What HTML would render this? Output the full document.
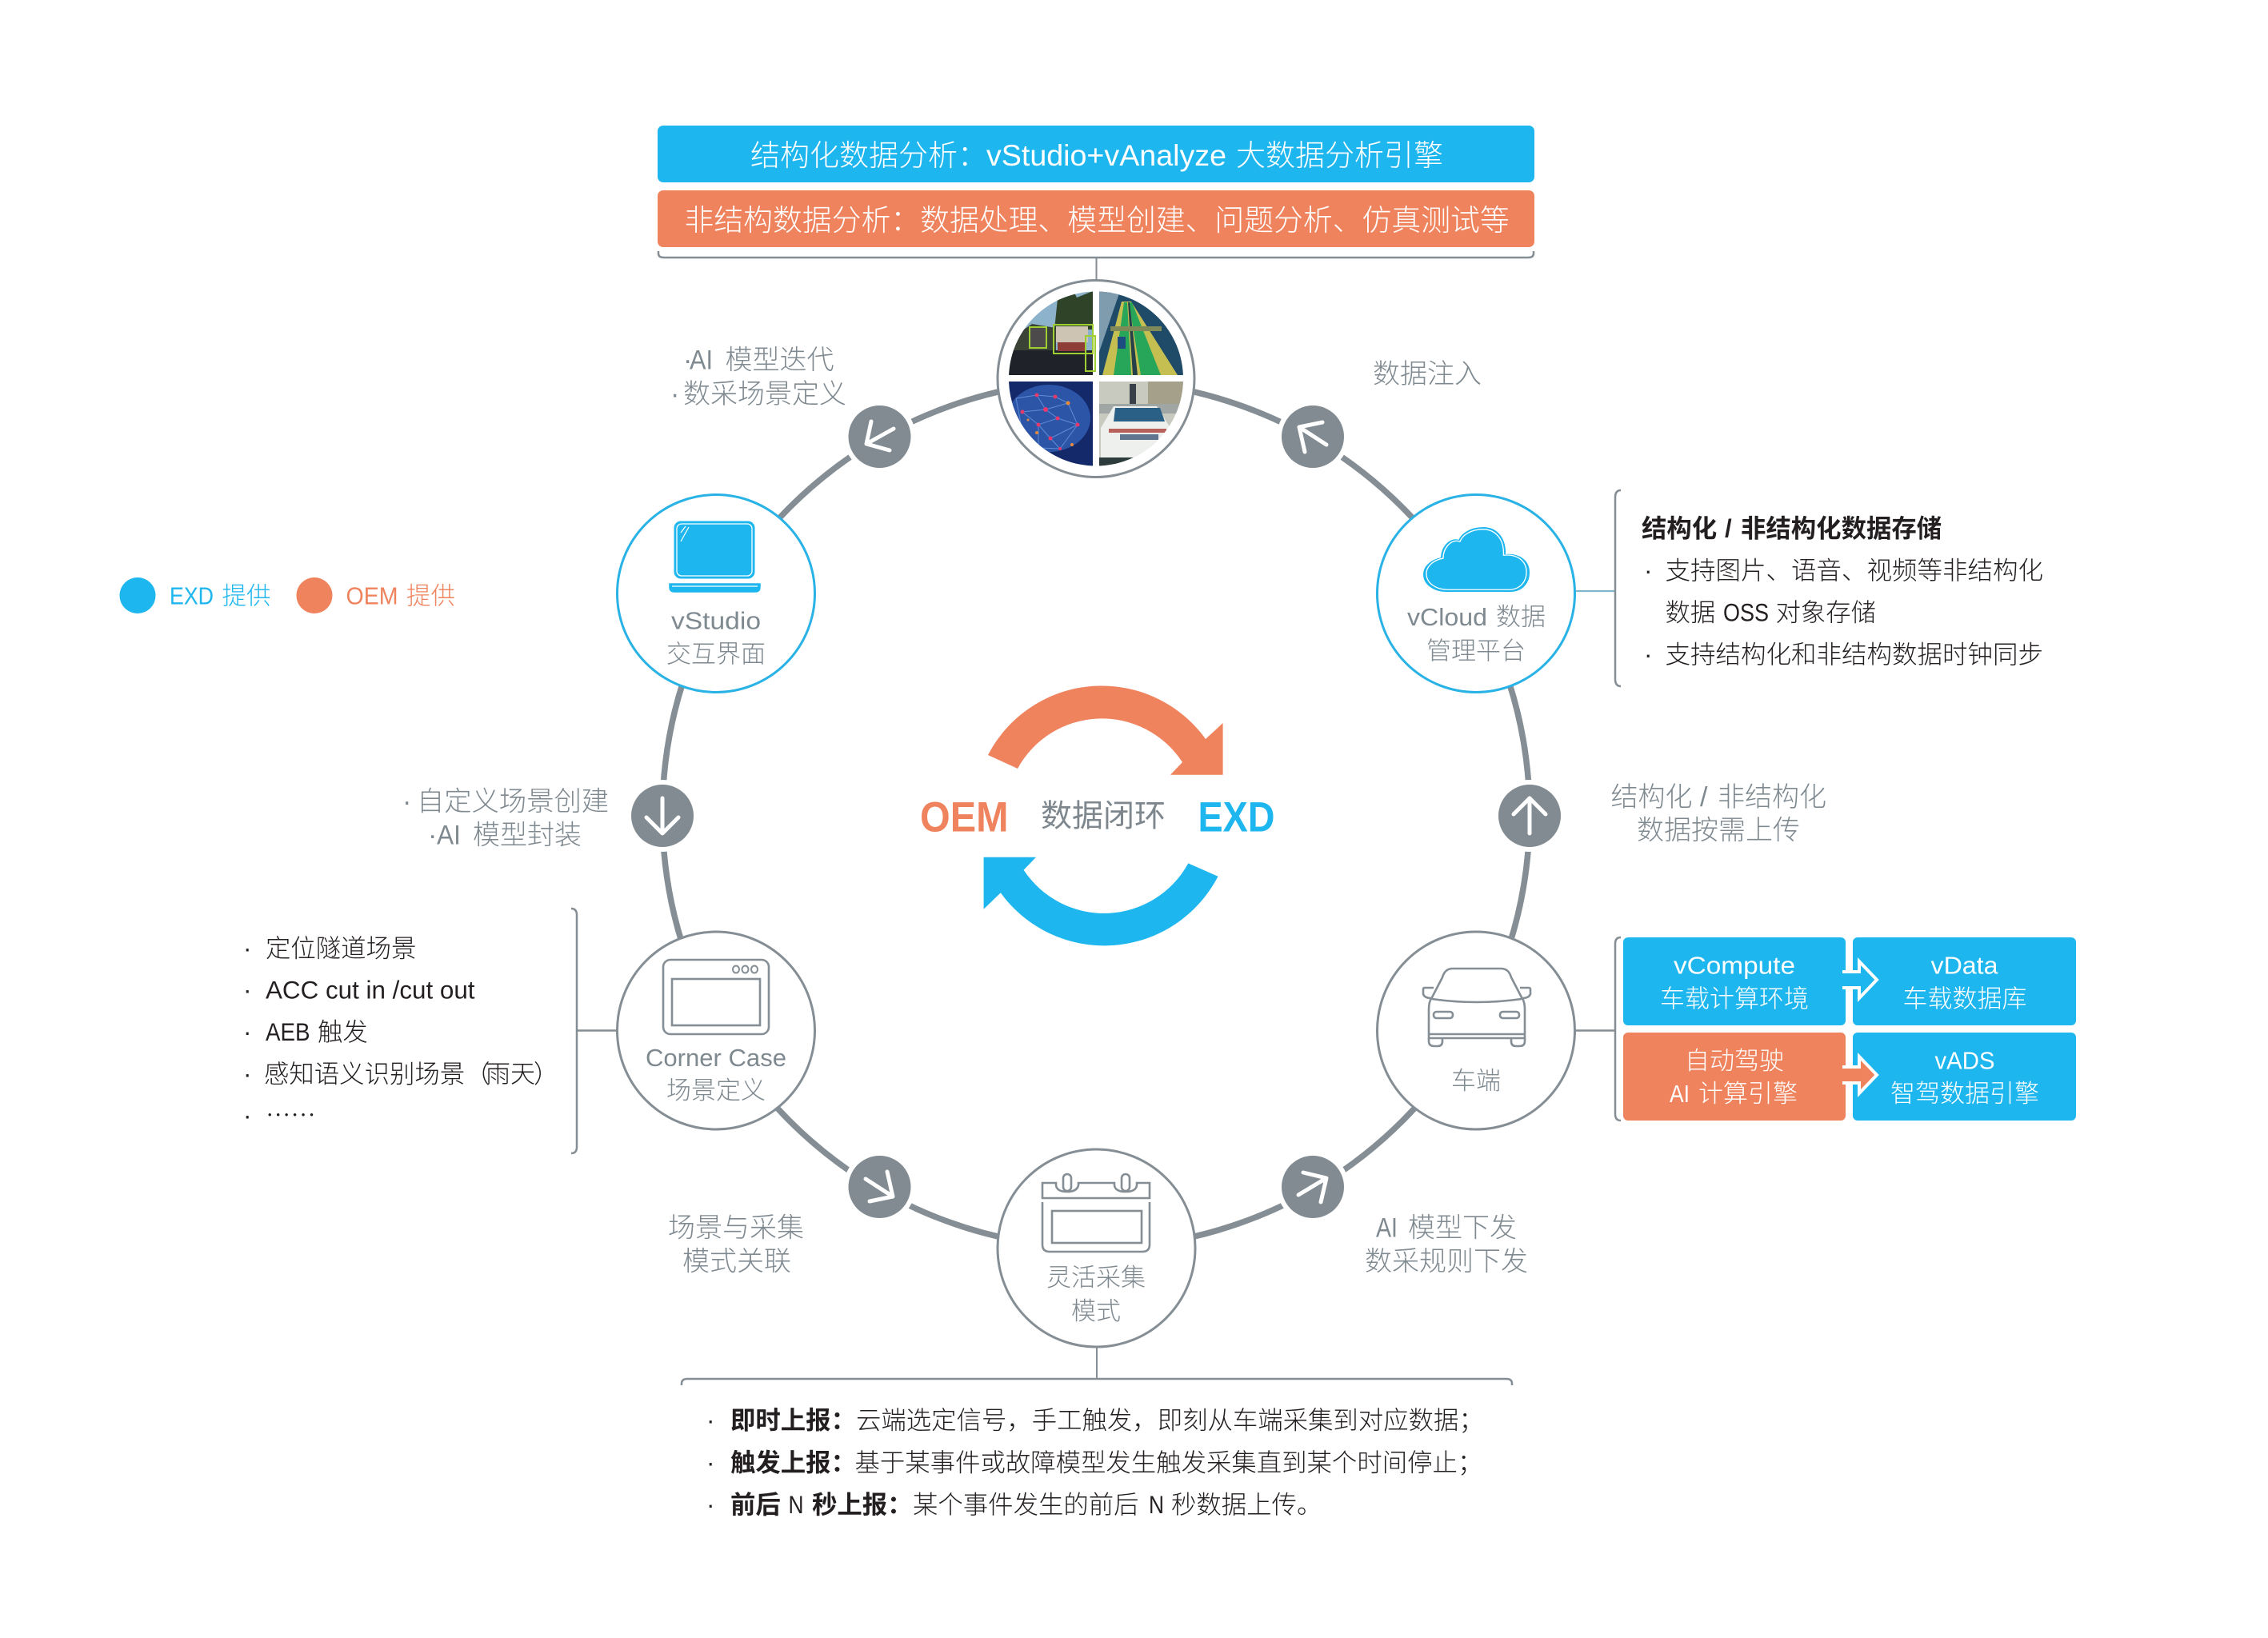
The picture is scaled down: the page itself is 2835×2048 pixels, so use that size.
<!DOCTYPE html>
<html><head><meta charset="utf-8"><style>
html,body{margin:0;padding:0;background:#fff}
svg{display:block}
text{font-family:"Liberation Sans","Noto Sans CJK SC",sans-serif;font-weight:300}
.g{fill:#7f8990}.k{fill:#231f20}.w{fill:#fff}
.s31{font-size:31px}.s34{font-size:34px}.s37{font-size:37px}.s315{font-size:31.4px}
.m{text-anchor:middle}.b{font-weight:700}
.line{fill:none;stroke:#848e94}
.ic{fill:none;stroke:#848e94;stroke-width:2.6}
</style></head><body>
<svg xmlns="http://www.w3.org/2000/svg" width="2835" height="2048" viewBox="0 0 2835 2048">
<defs><clipPath id="cp"><circle cx="1370" cy="473.5" r="109"/></clipPath></defs>
<rect width="2835" height="2048" fill="#fff"/>

<!-- top bars -->
<rect x="822" y="157" width="1096" height="71" rx="7" fill="#1eb6ee"/>
<rect x="822" y="238" width="1096" height="71" rx="7" fill="#ef835d"/>
<text class="w s37" x="938" y="207">结构化数据分析：</text>
<text class="w s37" x="1233" y="207" textLength="300" lengthAdjust="spacingAndGlyphs">vStudio+vAnalyze</text>
<text class="w s37" x="1545" y="207">大数据分析引擎</text>
<text class="w" font-size="36.85" x="855.5" y="288">非结构数据分析：数据处理、模型创建、问题分析、仿真测试等</text>
<path class="line" stroke-width="2.5" d="M823 314V317Q823 322 830 322H1910Q1917 322 1917 317V314"/>
<path class="line" stroke-width="2" d="M1370.5 322V350"/>

<!-- ring -->
<circle cx="1370" cy="1018" r="542" fill="none" stroke="#848e94" stroke-width="7.5"/>
<g fill="#fff">
<circle cx="1099.5" cy="546" r="45"/><circle cx="1641" cy="546" r="45"/>
<circle cx="828" cy="1020" r="45"/><circle cx="1912" cy="1020" r="45"/>
<circle cx="1099.5" cy="1484" r="45"/><circle cx="1641" cy="1484" r="45"/>
</g>
<g fill="#818b91">
<circle cx="1099.5" cy="546" r="39"/><circle cx="1641" cy="546" r="39"/>
<circle cx="828" cy="1020" r="39"/><circle cx="1912" cy="1020" r="39"/>
<circle cx="1099.5" cy="1484" r="39"/><circle cx="1641" cy="1484" r="39"/>
</g>
<g fill="none" stroke="#fff" stroke-width="5" stroke-linecap="round" stroke-linejoin="round">
<path d="M1912 1042V998M1892 1018L1912 998L1932 1018"/>
<path d="M828 998V1042M808 1022L828 1042L848 1022"/>
<path d="M1658 556L1624 534M1653 528L1624 534L1631 565"/>
<path d="M1117 536L1083 555M1089 527L1083 555L1112 563"/>
<path d="M1082 1474L1116 1496M1087 1502L1116 1496L1109 1465"/>
<path d="M1623 1494L1658 1473M1629 1466L1658 1473L1651 1503"/>
</g>

<!-- nodes -->
<g fill="#fff" stroke-width="3">
<circle cx="1370" cy="473.5" r="123" stroke="#848e94"/>
<circle cx="895" cy="742" r="123.5" stroke="#29b2e5"/>
<circle cx="1845" cy="742" r="123.5" stroke="#29b2e5"/>
<circle cx="895" cy="1288.5" r="123.5" stroke="#848e94"/>
<circle cx="1845" cy="1288.5" r="123.5" stroke="#848e94"/>
<circle cx="1370.5" cy="1560.5" r="123.5" stroke="#848e94"/>
</g>

<!-- photo collage -->
<g clip-path="url(#cp)">
<!-- TL -->
<rect x="1261" y="364" width="105" height="105" fill="#8db3cc"/>
<path d="M1261 425L1290 405L1320 410V440H1261Z" fill="#3b4236"/>
<path d="M1323 364H1342L1346 372L1366 364V412H1318Z" fill="#2f4329"/>
<rect x="1261" y="438" width="105" height="31" fill="#1f2228"/>
<rect x="1288" y="410" width="19" height="24" fill="#4d4a4c"/>
<rect x="1320" y="408" width="40" height="20" fill="#cdc4b4"/>
<rect x="1322" y="428" width="36" height="11" fill="#8d3d35"/>
<g fill="none" stroke="#9fce33" stroke-width="2"><rect x="1287" y="409" width="21" height="26"/><rect x="1317" y="406" width="49" height="36"/><rect x="1357" y="420" width="12" height="44"/></g>
<!-- TR -->
<rect x="1374" y="364" width="105" height="105" fill="#1f4a68"/>
<path d="M1374 364H1400L1374 440Z" fill="#7f9cae"/>
<path d="M1420 364H1479V425Z" fill="#8ea7b8"/>
<path d="M1402 377H1414L1472 469H1378Z" fill="#c5bf52"/>
<path d="M1405 378H1409L1414 469H1392Z" fill="#27a558"/>
<path d="M1411 378H1415L1451 469H1426Z" fill="#27a558"/>
<path d="M1410 378H1412L1422 469H1416Z" fill="#26404a"/>
<rect x="1397" y="421" width="10" height="15" fill="#1d4d80"/>
<rect x="1388" y="408" width="64" height="6" fill="#7f8a58"/>
<!-- BL -->
<rect x="1261" y="477" width="105" height="106" fill="#14296a"/>
<ellipse cx="1311" cy="523" rx="52" ry="42" fill="#2c55a8"/>
<g fill="none" stroke="#6f9be0" stroke-width="1" opacity=".8">
<path d="M1270 498L1296 494L1319 496L1335 504L1347 531L1325 561L1298 560L1278 540L1270 498"/>
<path d="M1278 515L1307 512L1322 523L1298 531L1278 515M1296 494L1307 512L1335 504M1322 523L1347 531M1298 531L1313 548L1347 531M1298 531L1298 560M1313 548L1325 561"/>
</g>
<g fill="#e4396a"><circle cx="1307" cy="512" r="3"/><circle cx="1296" cy="494" r="2.5"/><circle cx="1319" cy="496" r="2.5"/><circle cx="1278" cy="515" r="2.5"/><circle cx="1322" cy="523" r="2.5"/><circle cx="1298" cy="531" r="2.5"/><circle cx="1347" cy="531" r="2.5"/><circle cx="1313" cy="548" r="2.5"/><circle cx="1325" cy="561" r="2"/></g>
<g fill="#e98b3a"><circle cx="1335" cy="504" r="2.5"/><circle cx="1296" cy="541" r="2"/><circle cx="1285" cy="525" r="1.5"/><circle cx="1340" cy="556" r="2"/></g>
<!-- BR -->
<rect x="1374" y="477" width="105" height="106" fill="#c9cabf"/>
<rect x="1435" y="477" width="44" height="30" fill="#a4a089"/>
<rect x="1374" y="505" width="105" height="12" fill="#9fa6a3"/>
<rect x="1412" y="480" width="8" height="25" fill="#384048"/>
<path d="M1392 508H1446L1466 540V572H1376V535Z" fill="#eef0ee"/>
<path d="M1394 510H1450L1456 527H1392Z" fill="#2a5f86"/>
<rect x="1386" y="536" width="72" height="5" fill="#b8615a"/>
<rect x="1400" y="543" width="48" height="7" fill="#5f7590"/>
<rect x="1374" y="572" width="105" height="11" fill="#2d3b3c"/>
</g>

<!-- vStudio icon -->
<rect x="843" y="652" width="100" height="71" rx="8" fill="#1eb6ee" stroke="#1eb6ee" stroke-width="1"/>
<rect x="846" y="655" width="94" height="65" rx="6" fill="none" stroke="#fff" stroke-width="1.3"/>
<path d="M851 666L857 658M851 677L861 659" stroke="#fff" stroke-width="1.2"/>
<path d="M837 730H950V734Q950 740 944 740H843Q837 740 837 734Z" fill="#1eb6ee" stroke="#1eb6ee" stroke-width="1.5"/>
<path d="M840 733H947" stroke="#fff" stroke-width="1.2"/>
<text class="g s31" x="839" y="786.5" textLength="112" lengthAdjust="spacingAndGlyphs">vStudio</text>
<text class="g s31 m" x="895" y="828.5">交互界面</text>

<!-- cloud -->
<path d="M1808 739H1888C1903 739 1911 728 1911 716C1911 702 1900 692 1881 694C1882 672 1870 660 1854 660C1838 660 1827 668 1824 676C1812 672 1802 685 1802 698C1790 700 1780 708 1780 718C1780 730 1792 739 1808 739Z" fill="#1eb6ee" stroke="#1eb6ee" stroke-width="2"/>
<path d="M1808 739H1888C1903 739 1911 728 1911 716C1911 702 1900 692 1881 694C1882 672 1870 660 1854 660C1838 660 1827 668 1824 676C1812 672 1802 685 1802 698C1790 700 1780 708 1780 718C1780 730 1792 739 1808 739Z" fill="none" stroke="#fff" stroke-width="1.4" transform="translate(1845.5 700) scale(.955) translate(-1845.5 -700)"/>
<text class="g s31" x="1759" y="782" textLength="100" lengthAdjust="spacingAndGlyphs">vCloud</text>
<text class="g s31" x="1870" y="782">数据</text>
<text class="g s31 m" x="1845" y="824.5">管理平台</text>

<!-- corner case icon -->
<rect x="829" y="1200" width="132" height="93" rx="9" class="ic"/>
<rect x="840" y="1224" width="110" height="58" class="ic"/>
<ellipse cx="920" cy="1212" rx="4" ry="4.5" class="ic" style="stroke-width:2"/><ellipse cx="931.5" cy="1212" rx="4" ry="4.5" class="ic" style="stroke-width:2"/><ellipse cx="943" cy="1212" rx="4" ry="4.5" class="ic" style="stroke-width:2"/>
<text class="g s31" x="807" y="1333" textLength="176" lengthAdjust="spacingAndGlyphs">Corner Case</text>
<text class="g s31 m" x="895" y="1374">场景定义</text>

<!-- car icon -->
<g class="ic">
<path d="M1786 1298V1262Q1786 1252 1790 1247L1803 1222Q1806 1211 1816 1211H1876Q1886 1211 1889 1222L1902 1247Q1906 1252 1906 1262V1298Q1906 1298 1900 1298H1792Q1786 1298 1786 1298Z"/>
<path d="M1790 1249Q1845 1257 1902 1249"/>
<path d="M1792 1235H1781Q1779 1235 1779 1237V1243Q1781 1248 1789 1248M1900 1235H1911Q1913 1235 1913 1237V1243Q1911 1248 1903 1248"/>
<rect x="1792" y="1265" width="24" height="8" rx="3.5"/>
<rect x="1875" y="1265" width="24" height="8" rx="3.5"/>
<path d="M1786 1298V1302Q1786 1308 1793 1308H1797Q1803 1308 1803 1302V1298M1889 1298V1302Q1889 1308 1895 1308H1899Q1906 1308 1906 1302V1298"/>
<path d="M1786 1293H1906"/>
</g>
<text class="g s31 m" x="1845" y="1362">车端</text>

<!-- calendar icon -->
<g class="ic">
<path d="M1303 1498V1479H1320V1482Q1321 1490 1334 1490Q1346 1490 1348 1482V1479H1393V1482Q1394 1490 1407 1490Q1420 1490 1421 1482V1479H1437V1498Z"/>
<rect x="1329" y="1468" width="10" height="21" rx="5"/>
<rect x="1402" y="1468" width="10" height="21" rx="5"/>
<path d="M1303 1503V1556Q1303 1565 1312 1565H1428Q1437 1565 1437 1556V1503"/>
<rect x="1315" y="1514" width="112" height="40"/>
</g>
<text class="g s31 m" x="1370" y="1608">灵活采集</text>
<text class="g s31 m" x="1370" y="1650">模式</text>

<!-- brackets & connectors -->
<path d="M1970 739H2018" fill="none" stroke="#7fb6cc" stroke-width="2.2"/>
<path class="line" stroke-width="2.5" d="M2026 613Q2019 613 2019 622V849Q2019 858 2026 858"/>
<path class="line" stroke-width="2.5" d="M1970 1288.5H2018M2026 1172Q2019 1172 2019 1180V1393Q2019 1401 2026 1401"/>
<path class="line" stroke-width="2.5" d="M771 1288.5H721M714 1136Q721 1136 721 1144V1434Q721 1442 714 1442"/>
<path class="line" stroke-width="2" d="M1371 1684V1724"/>
<path class="line" stroke-width="2.5" d="M852 1732V1730Q852 1724 859 1724H1883Q1890 1724 1890 1730V1732"/>

<!-- boxes -->
<rect x="2316" y="1172" width="279" height="110" rx="6" fill="#1eb6ee"/>
<rect x="2316" y="1291" width="279" height="110" rx="6" fill="#1eb6ee"/>
<rect x="2029" y="1172" width="278" height="110" rx="6" fill="#1eb6ee"/>
<rect x="2029" y="1291" width="278" height="110" rx="6" fill="#ef835d"/>
<path d="M2305 1215H2324V1202L2346 1225L2324 1248V1235H2305Z" fill="#1eb6ee" stroke="#fff" stroke-width="4"/>
<path d="M2305 1334H2324V1321L2346 1344L2324 1367V1354H2305Z" fill="#ef835d" stroke="#fff" stroke-width="4"/>
<rect x="2300" y="1217" width="12" height="16" fill="#1eb6ee"/>
<rect x="2300" y="1336" width="12" height="16" fill="#ef835d"/>
<text class="w s31" x="2092" y="1217.5" textLength="152" lengthAdjust="spacingAndGlyphs">vCompute</text>
<text class="w s31 m" x="2168" y="1259.5">车载计算环境</text>
<text class="w s31" x="2413.5" y="1217.5" textLength="84" lengthAdjust="spacingAndGlyphs">vData</text>
<text class="w s31 m" x="2456" y="1259.5">车载数据库</text>
<text class="w s31 m" x="2168" y="1337">自动驾驶</text>
<text class="w s31" x="2087" y="1378" textLength="25" lengthAdjust="spacingAndGlyphs">AI</text>
<text class="w s31" x="2123" y="1378">计算引擎</text>
<text class="w s31" x="2418.5" y="1336.5" textLength="75" lengthAdjust="spacingAndGlyphs">vADS</text>
<text class="w s31 m" x="2456" y="1378">智驾数据引擎</text>

<!-- center -->
<path d="M1235 944A160 160 0 0 1 1507 924L1528.6 904V968.7H1463L1478 953A120 120 0 0 0 1272 961Z" fill="#ef835d"/>
<path d="M1522.5 1095.7A160 160 0 0 1 1250.8 1116.3L1229.6 1136.7V1071.7H1295L1279.6 1087.7A120 120 0 0 0 1485.3 1079.4Z" fill="#1eb6ee"/>
<text x="1150" y="1039.5" font-size="53" style="font-weight:700" fill="#ef835d" textLength="110.5" lengthAdjust="spacingAndGlyphs">OEM</text>
<text x="1497.5" y="1039.5" font-size="53" style="font-weight:700" fill="#1eb6ee" textLength="96" lengthAdjust="spacingAndGlyphs">EXD</text>
<text x="1379" y="1033.5" font-size="39" class="m" style="font-weight:400" fill="#7d878d">数据闭环</text>

<!-- arrow labels -->
<text class="g s34" x="854" y="461.5">·</text>
<text class="g s34" x="862" y="461.5" textLength="29" lengthAdjust="spacingAndGlyphs">AI</text>
<text class="g s34" x="906.5" y="461.5" >模型迭代</text>
<text class="g s34" x="838" y="504">·</text>
<text class="g s34" x="854" y="504">数采场景定义</text>
<text class="g s34 m" x="1784" y="479">数据注入</text>

<text class="g s34" x="2013.5" y="1008">结构化</text>
<text class="g s34" x="2125" y="1008">/</text>
<text class="g s34" x="2147" y="1008">非结构化</text>
<text class="g s34 m" x="2148" y="1049.5">数据按需上传</text>

<text class="g s34" x="503" y="1013.5">·</text>
<text class="g" font-size="34.3" x="521" y="1013.5">自定义场景创建</text>
<text class="g s34" x="535" y="1055.5">·</text>
<text class="g s34" x="546" y="1055.5" textLength="30" lengthAdjust="spacingAndGlyphs">AI</text>
<text class="g s34" x="591" y="1055.5">模型封装</text>

<text class="g s34" x="835" y="1546.5">场景与采集</text>
<text class="g s34 m" x="921" y="1588.5">模式关联</text>
<text class="g s34" x="1720" y="1546.5" textLength="27" lengthAdjust="spacingAndGlyphs">AI</text>
<text class="g s34" x="1760" y="1546.5">模型下发</text>
<text class="g s34 m" x="1808" y="1588.5">数采规则下发</text>

<!-- legend -->
<circle cx="172" cy="744.5" r="22.5" fill="#1eb6ee"/>
<circle cx="393" cy="744.5" r="22.5" fill="#ef835d"/>
<text x="212" y="755.5" font-size="30.5" fill="#1eb6ee" textLength="55" lengthAdjust="spacingAndGlyphs">EXD</text>
<text x="277.5" y="755.5" font-size="30.5" fill="#1eb6ee">提供</text>
<text x="432.5" y="755.5" font-size="30.5" fill="#ef835d" textLength="65" lengthAdjust="spacingAndGlyphs">OEM</text>
<text x="508" y="755.5" font-size="30.5" fill="#ef835d">提供</text>

<!-- vCloud notes -->
<text class="k s315 b" x="2052" y="671.5">结构化</text>
<text class="k s315 b" x="2156" y="671.5">/</text>
<text class="k s315 b" x="2176" y="671.5">非结构化数据存储</text>
<text class="k s315" x="2055" y="724">·</text>
<text class="k" font-size="31.5" x="2081.5" y="724">支持图片、语音、视频等非结构化</text>
<text class="k s315" x="2081.5" y="776.5">数据</text>
<text class="k s315" x="2154" y="776.5" textLength="57" lengthAdjust="spacingAndGlyphs">OSS</text>
<text class="k s315" x="2219.5" y="776.5">对象存储</text>
<text class="k s315" x="2055" y="829">·</text>
<text class="k" font-size="31.5" x="2081.5" y="829">支持结构化和非结构数据时钟同步</text>

<!-- left list -->
<text class="k s315" x="304" y="1196.5">·</text><text class="k s315" x="332" y="1196.5">定位隧道场景</text>
<text class="k s315" x="304" y="1248.5">·</text><text class="k s315" x="332" y="1248.5" textLength="261.5" lengthAdjust="spacingAndGlyphs">ACC cut in /cut out</text>
<text class="k s315" x="304" y="1301">·</text><text class="k s315" x="332" y="1301" textLength="55.5" lengthAdjust="spacingAndGlyphs">AEB</text><text class="k s315" x="397" y="1301">触发</text>
<text class="k s315" x="304" y="1353.5">·</text><text class="k s315" x="330" y="1353.5">感知语义识别场景（</text><text class="k" font-size="31" x="607" y="1353.5">雨天</text><text class="k s315" x="667" y="1353.5">）</text>
<text class="k s315" x="304" y="1405.5">·</text><text class="k s315" x="332" y="1405.5" style="font-family:'Noto Sans CJK SC',sans-serif">……</text>

<!-- bottom notes -->
<text class="k s315" x="883" y="1786.5">·</text>
<text class="k s315 b" x="913" y="1786.5">即时上报：</text>
<text class="k s315" x="1070" y="1786.5">云端选定信号，手工触发，即刻从车端采集到对应数据；</text>
<text class="k s315" x="883" y="1839.5">·</text>
<text class="k s315 b" x="913" y="1839.5">触发上报：</text>
<text class="k s315" x="1068.5" y="1839.5">基于某事件或故障模型发生触发采集直到某个时间停止；</text>
<text class="k s315" x="883" y="1892">·</text>
<text class="k s315 b" x="913" y="1892">前后</text>
<text class="k s315" x="985.5" y="1892" style="font-weight:400" textLength="19" lengthAdjust="spacingAndGlyphs">N</text>
<text class="k s315 b" x="1015" y="1892">秒上报：</text>
<text class="k s315" x="1141" y="1892">某个事件发生的前后</text>
<text class="k s315" x="1436" y="1892" textLength="19" lengthAdjust="spacingAndGlyphs">N</text>
<text class="k s315" x="1464" y="1892">秒数据上传。</text>
</svg>
</body></html>
